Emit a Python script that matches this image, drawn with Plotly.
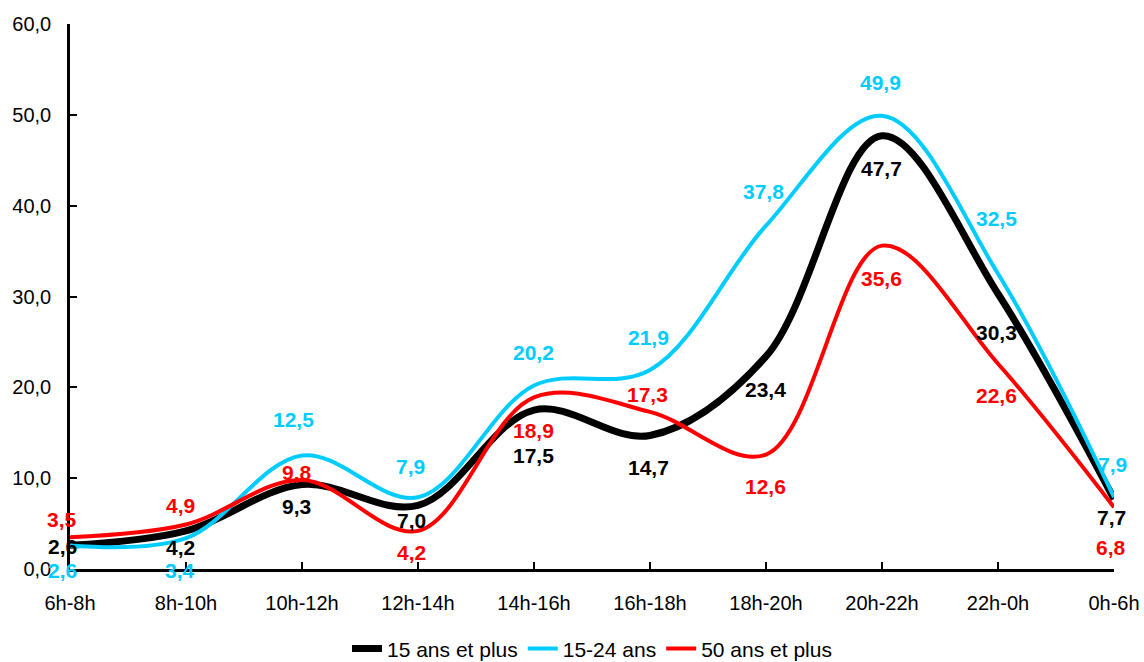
import plotly.graph_objects as go

# Time slots on the horizontal axis
categories = ["6h-8h", "8h-10h", "10h-12h", "12h-14h", "14h-16h",
              "16h-18h", "18h-20h", "20h-22h", "22h-0h", "0h-6h"]

# Series values (%)
s_15_plus = [2.6, 4.2, 9.3, 7.0, 17.5, 14.7, 23.4, 47.7, 30.3, 7.7]
s_15_24 = [2.6, 3.4, 12.5, 7.9, 20.2, 21.9, 37.8, 49.9, 32.5, 7.9]
s_50_plus = [3.5, 4.9, 9.8, 4.2, 18.9, 17.3, 12.6, 35.6, 22.6, 6.8]

y_ticks = [0, 10, 20, 30, 40, 50, 60]

FONT = "Arial, Liberation Sans, sans-serif"

# name, values, colour, line width, label offsets in px (dx, dy with dy upward)
series = [
    ("15 ans et plus", s_15_plus, "#000000", 7,
     [(-8, -1), (-6, -17), (-6, -22), (-7, -15), (-1, -45),
      (-2, -32), (-1, -33), (-1, -33), (-2, -39), (-3, -18)]),
    ("15-24 ans", s_15_24, "#00CCFF", 4,
     [(-8, -25), (-6, -32), (-9, 36), (-8, 31), (-1, 33),
      (-2, 33), (-3, 34), (-2, 33), (-2, 55), (-2, 33)]),
    ("50 ans et plus", s_50_plus, "#FF0000", 4,
     [(-8, 18), (-6, 19), (-5, 7), (-7, -22), (-1, -33),
      (-3, 17), (-1, -32), (-1, -33), (-2, -32), (-3, -40)]),
]

fig = go.Figure()
annotations = []
for name, vals, color, width, offsets in series:
    fig.add_trace(go.Scatter(
        x=categories, y=vals, name=name, mode="lines",
        line=dict(color=color, width=width, shape="spline", smoothing=1.0),
    ))
    for cat, v, (dx, dy) in zip(categories, vals, offsets):
        annotations.append(dict(
            x=cat, y=v, xref="x", yref="y",
            text=f"{v:.1f}".replace(".", ","),
            showarrow=False, xshift=dx, yshift=dy,
            font=dict(family=FONT, size=21, color=color, weight="bold"),
        ))

fig.update_layout(
    width=1144, height=662,
    margin=dict(l=70, r=30, t=24, b=93, autoexpand=False),
    paper_bgcolor="white", plot_bgcolor="white",
    separators=", ",
    showlegend=True,
    legend=dict(
        orientation="h", x=0.5, xanchor="center",
        yref="container", y=0.02, yanchor="middle",
        font=dict(family=FONT, size=21, color="#000000"),
        itemwidth=30, tracegroupgap=0,
    ),
    annotations=annotations,
    font=dict(family=FONT, size=20, color="#000000"),
)

fig.update_xaxes(
    type="category", range=[0, len(categories) - 1], automargin=False,
    showgrid=False, zeroline=False,
    showline=True, linecolor="#000000", linewidth=2.5,
    ticks="inside", ticklen=7, tickwidth=2, tickcolor="#000000",
    ticklabelstandoff=14,
    tickfont=dict(family=FONT, size=20, color="#000000"),
)

fig.update_yaxes(
    range=[0, 60], tickvals=y_ticks, tickformat=".1f", automargin=False,
    showgrid=False, zeroline=False,
    showline=True, linecolor="#000000", linewidth=2.5,
    ticks="inside", ticklen=7, tickwidth=2, tickcolor="#000000",
    ticklabelstandoff=12,
    tickfont=dict(family=FONT, size=20, color="#000000"),
)

fig.write_html("out.html")
